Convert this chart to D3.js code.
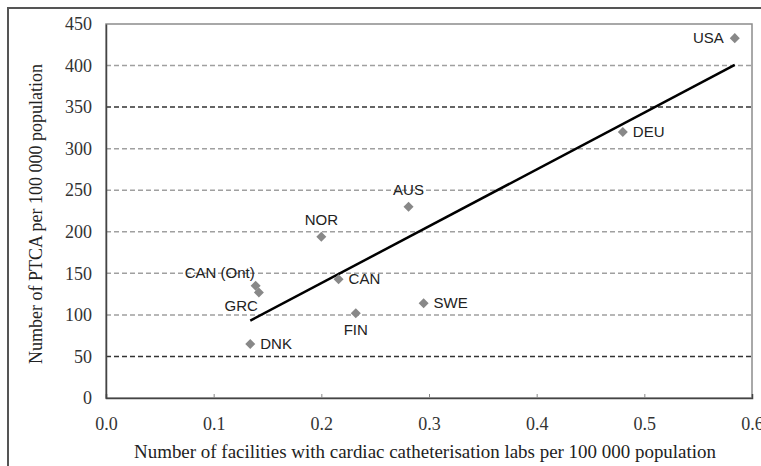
<!DOCTYPE html>
<html>
<head>
<meta charset="utf-8">
<script src="https://cdn.jsdelivr.net/npm/d3@7"></script>
<style>
  body { margin: 0; background: #fff; }
  svg { display: block; }
  .serif { font-family: "Liberation Serif", "Times New Roman", serif; }
</style>
</head>
<body>
<svg id="chart" width="761" height="466"></svg>
<script>
// data
const countries = ["USA", "DEU", "AUS", "NOR", "CAN", "CAN (Ont)", "GRC", "FIN", "SWE", "DNK"];
const facilities = [0.584, 0.480, 0.281, 0.200, 0.216, 0.139, 0.142, 0.232, 0.295, 0.134];
const ptca = [433, 320, 230, 194, 143, 135, 127, 102, 114, 65];
// where each label sits relative to its marker
const labelPos = ["left", "right", "above", "above", "right", "aboveLeft", "belowLeft", "below", "right", "right"];

const xTicks = [0, 0.1, 0.2, 0.3, 0.4, 0.5, 0.6];
const yTicks = [0, 50, 100, 150, 200, 250, 300, 350, 400, 450];
const darkGrid = [50, 350];

const svg = d3.select('#chart');

var margin = {left: 106, top: 24, right: 9, bottom: 68},
	width = 761 - margin.left - margin.right,
	height = 466 - margin.top - margin.bottom;

// outer frame
svg.append('rect')
	.attr('x', 8).attr('y', 8)
	.attr('width', 780).attr('height', 480)
	.attr('fill', 'none')
	.attr('stroke', '#555')
	.attr('stroke-width', 2);

var x = d3.scaleLinear().domain([0, 0.6]).range([0, width]);
var y = d3.scaleLinear().domain([0, 450]).range([height, 0]);

var g = svg.append('g').attr('transform', `translate(${margin.left},${margin.top})`);

// plot border (top / right)
g.append('rect')
	.attr('width', width).attr('height', height)
	.attr('fill', 'none')
	.attr('stroke', '#8c8c8c')
	.attr('stroke-width', 1.5);

// gridlines
g.selectAll('.grid')
	.data(yTicks.filter(d => d > 0 && d < 450))
	.enter().append('line')
	.attr('x1', 0).attr('x2', width)
	.attr('y1', d => y(d)).attr('y2', d => y(d))
	.attr('stroke', d => darkGrid.includes(d) ? '#333' : '#a0a0a0')
	.attr('stroke-width', 1.5)
	.attr('stroke-dasharray', '5,3');

// axes
var xAxis = d3.axisBottom(x).tickValues(xTicks).tickFormat(d3.format('.1f')).tickSize(-4).tickPadding(19);
var yAxis = d3.axisLeft(y).tickValues(yTicks).tickSize(0).tickPadding(14);

var gx = g.append('g').attr('transform', `translate(0,${height})`).call(xAxis);
var gy = g.append('g').call(yAxis);

[gx, gy].forEach(a => {
	a.attr('font-family', '"Liberation Serif", "Times New Roman", serif').attr('font-size', 18);
	a.select('.domain').attr('stroke', '#444').attr('stroke-width', 1.5);
	a.selectAll('.tick line').attr('stroke', '#888');
	a.selectAll('.tick text')
		.attr('class', 'serif')
		.attr('fill', '#333')
		.style('font-size', '18px');
});
gx.selectAll('.tick').filter(d => d === 0 || d === 0.6).select('line').remove();

// regression line across the data range
var mx = d3.mean(facilities),
	my = d3.mean(ptca),
	sxy = d3.sum(facilities, (v, i) => (v - mx) * (ptca[i] - my)),
	sxx = d3.sum(facilities, v => (v - mx) * (v - mx)),
	slope = sxy / sxx,
	intercept = my - slope * mx;
var ext = d3.extent(facilities);

g.append('line')
	.attr('x1', x(ext[0])).attr('y1', y(intercept + slope * ext[0]))
	.attr('x2', x(ext[1])).attr('y2', y(intercept + slope * ext[1]))
	.attr('stroke', '#000')
	.attr('stroke-width', 2.5);

// markers
var points = countries.map((c, i) => ({name: c, x: facilities[i], y: ptca[i], pos: labelPos[i]}));

g.selectAll('.pt')
	.data(points)
	.enter().append('path')
	.attr('d', d3.symbol().type(d3.symbolDiamond2).size(64))
	.attr('transform', d => `translate(${x(d.x)},${y(d.y)})`)
	.attr('fill', '#888');

var offsets = {
	left: [-11, 5, 'end'],
	right: [10, 5, 'start'],
	above: [0, -12, 'middle'],
	below: [0, 22, 'middle'],
	aboveLeft: [-1, -8, 'end'],
	belowLeft: [-1, 19, 'end']
};

g.selectAll('.lbl')
	.data(points)
	.enter().append('text')
	.attr('x', d => x(d.x) + offsets[d.pos][0])
	.attr('y', d => y(d.y) + offsets[d.pos][1])
	.attr('text-anchor', d => offsets[d.pos][2])
	.attr('fill', '#222')
	.style('font-family', '"Liberation Sans", Arial, sans-serif')
	.style('font-size', '15px')
	.text(d => d.name);

// axis titles
svg.append('text')
	.attr('class', 'serif')
	.attr('x', 134)
	.attr('y', 458)
	.attr('textLength', 582)
	.attr('lengthAdjust', 'spacingAndGlyphs')
	.attr('fill', '#222')
	.style('font-size', '18px')
	.text('Number of facilities with cardiac catheterisation labs per 100 000 population');

svg.append('text')
	.attr('class', 'serif')
	.attr('transform', `translate(42,${margin.top + height / 2 + 3}) rotate(-90)`)
	.attr('text-anchor', 'middle')
	.attr('fill', '#222')
	.style('font-size', '18px')
	.text('Number of PTCA per 100 000 population');
</script>
</body>
</html>
